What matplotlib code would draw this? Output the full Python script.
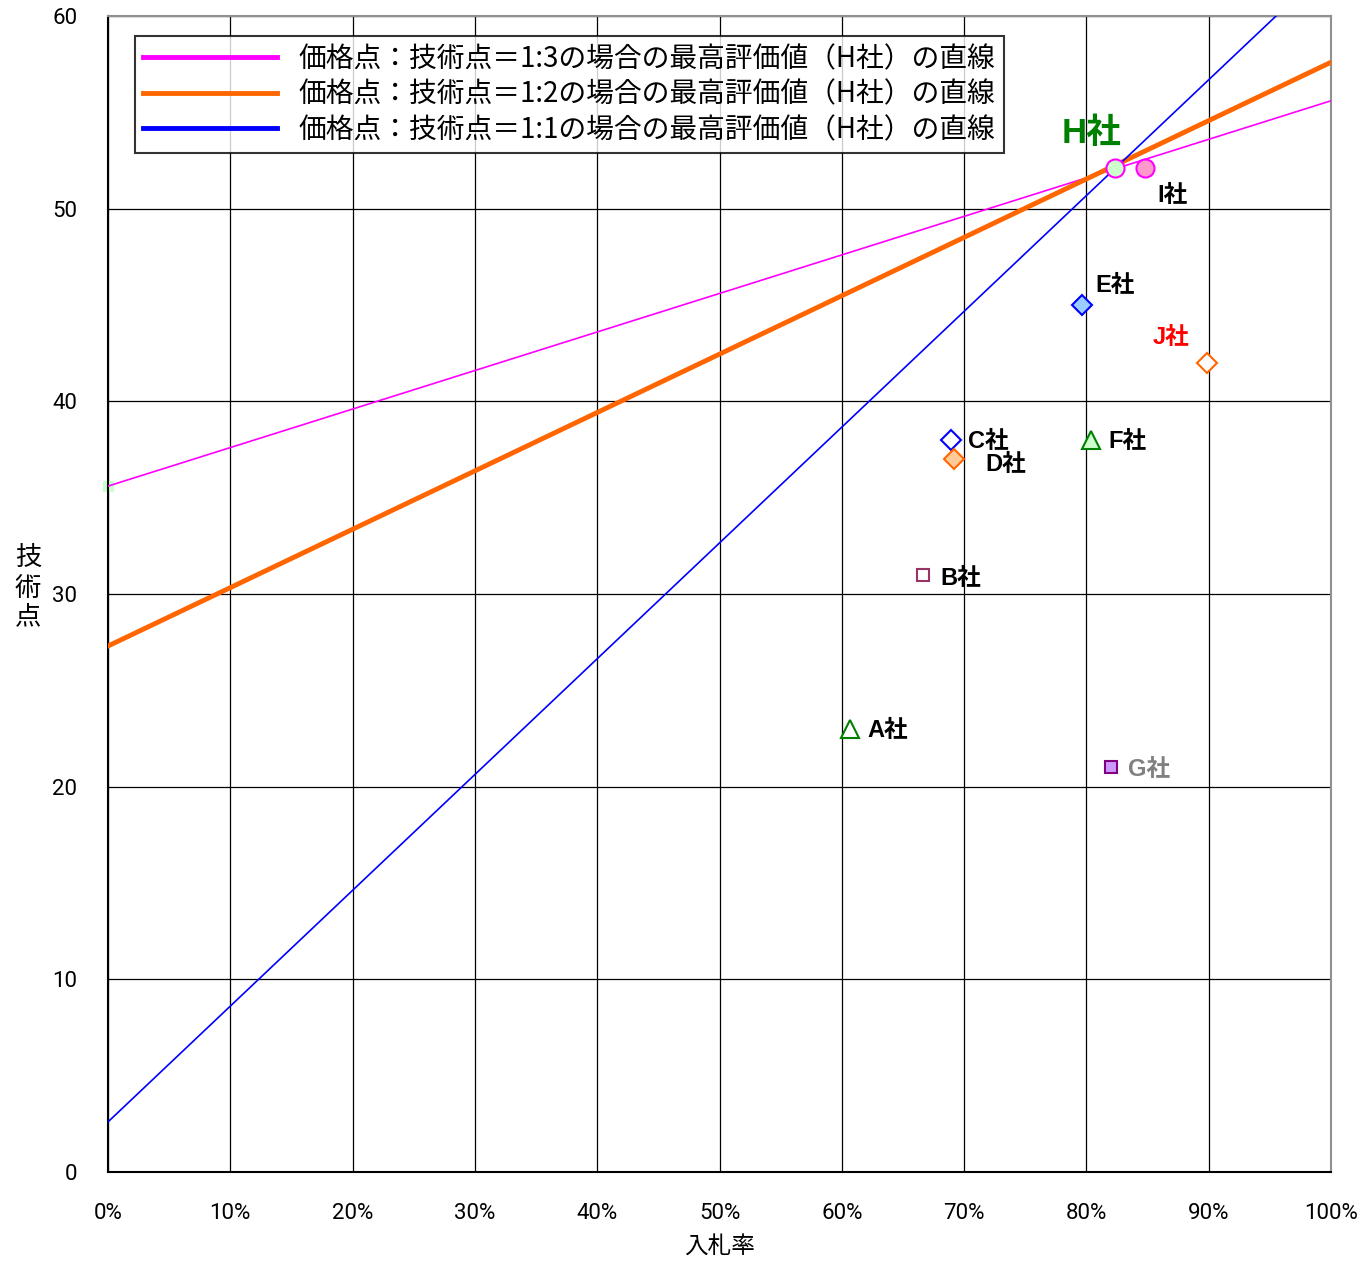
import numpy as np
import matplotlib.pyplot as plt

plt.rcParams['font.family'] = ['Noto Sans CJK JP', 'DejaVu Sans']

# companies: bid rate (%) and technical score
companies = ['A社', 'B社', 'C社', 'D社', 'E社', 'F社', 'G社', 'H社', 'I社', 'J社']
bid_rate = [60.7, 66.6, 68.9, 69.2, 79.6, 80.4, 82.0, 82.3, 84.8, 89.9]
tech_score = [23.0, 31.0, 38.0, 37.0, 45.0, 38.0, 21.0, 52.1, 52.1, 42.0]

# lines of equal top evaluation (H社): value at 0% and at 100%
line_labels = ['価格点：技術点＝1:3の場合の最高評価値（H社）の直線',
               '価格点：技術点＝1:2の場合の最高評価値（H社）の直線',
               '価格点：技術点＝1:1の場合の最高評価値（H社）の直線']
line_start = [35.6, 27.3, 2.6]
line_end = [55.6, 57.6, 62.7]

fig = plt.figure(figsize=(13.64, 12.61), dpi=100)
ax = fig.add_axes([0.0792, 0.0706, 0.8966, 0.9167])

line_colors = ['#ff00ff', '#ff6600', '#0000ff']
line_widths = [1.2, 3.5, 1.2]
handles = []
for lbl, y0, y1, c, lw in zip(line_labels, line_start, line_end, line_colors, line_widths):
    ax.plot([0, 100], [y0, y1], color=c, lw=lw, zorder=3)
for lbl, c in zip(line_labels, line_colors):
    h, = ax.plot([], [], color=c, lw=3.5, label=lbl)
    handles.append(h)

# small marker at start of the 1:3 line
ax.plot([0], [line_start[0]], marker='s', ms=7, mfc='#ccffcc', mec='#ccffcc', zorder=2, clip_on=False)

styles = {
    'A社': ('^', 'white', '#008000'),
    'B社': ('s', 'white', '#993366'),
    'C社': ('D', 'white', '#0000ff'),
    'D社': ('D', '#ffcc99', '#ff6600'),
    'E社': ('D', '#99ccff', '#0000ff'),
    'F社': ('^', '#ccffcc', '#008000'),
    'G社': ('s', '#cc99ff', '#800080'),
    'H社': ('o', '#ccffcc', '#ff00ff'),
    'I社': ('o', '#ff99cc', '#ff00ff'),
    'J社': ('D', 'white', '#ff6600'),
}
sizes = {'o': 13, 'D': 10, 's': 9, '^': 13}
for name, x, y in zip(companies, bid_rate, tech_score):
    m, fc, ec = styles[name]
    ax.plot([x], [y], marker=m, ms=sizes[m], mfc=fc, mec=ec, mew=1.5, zorder=5, ls='none')

# company label positions
label_pos = {
    'A社': (62.1, 22.9, 'black', 17),
    'B社': (68.1, 30.8, 'black', 17),
    'C社': (70.3, 37.9, 'black', 17),
    'D社': (71.7, 36.7, 'black', 17),
    'E社': (80.7, 46.0, 'black', 17),
    'F社': (81.8, 37.9, 'black', 17),
    'G社': (83.4, 20.9, 'gray', 17),
    'H社': (78.0, 53.9, '#008000', 25),
    'I社': (85.8, 50.7, 'black', 17),
    'J社': (85.4, 43.3, 'red', 17),
}
for name in companies:
    x, y, c, fs = label_pos[name]
    ax.text(x, y, name, color=c, fontsize=fs, fontweight='bold', ha='left', va='center', zorder=6,
            family=['Liberation Sans', 'Noto Sans CJK JP'])

ax.set_xlim(0, 100)
ax.set_ylim(0, 60)
ax.set_xticks(np.arange(0, 101, 10))
ax.set_xticklabels([f'{v}%' for v in range(0, 101, 10)])
ax.set_yticks(np.arange(0, 61, 10))
ax.grid(True, color='black', lw=0.9)
ax.tick_params(axis='both', length=0, labelsize=16)
ax.tick_params(axis='x', pad=22)
ax.tick_params(axis='y', pad=22)
for t in ax.get_xticklabels() + ax.get_yticklabels():
    t.set_family('Roboto')
for s in ['top', 'right']:
    ax.spines[s].set_color('#909090')
    ax.spines[s].set_linewidth(1.5)
for s in ['left', 'bottom']:
    ax.spines[s].set_color('black')
    ax.spines[s].set_linewidth(1.5)

ax.set_xlabel('入札率', fontsize=17, labelpad=8)
fig.text(28 / 1364, 1 - 588 / 1261, '技\n術\n点', fontsize=19, ha='center', va='center',
         linespacing=1.1)

leg = ax.legend(handles=handles, loc='upper left', bbox_to_anchor=(0.022, 0.983),
                fontsize=20, frameon=True, fancybox=False, edgecolor='black',
                handlelength=4.8, borderpad=0.3, labelspacing=0.2, handletextpad=0.8,
                borderaxespad=0)
leg.get_frame().set_linewidth(1.5)
leg.set_zorder(10)

fig.savefig('out.png', dpi=100)
